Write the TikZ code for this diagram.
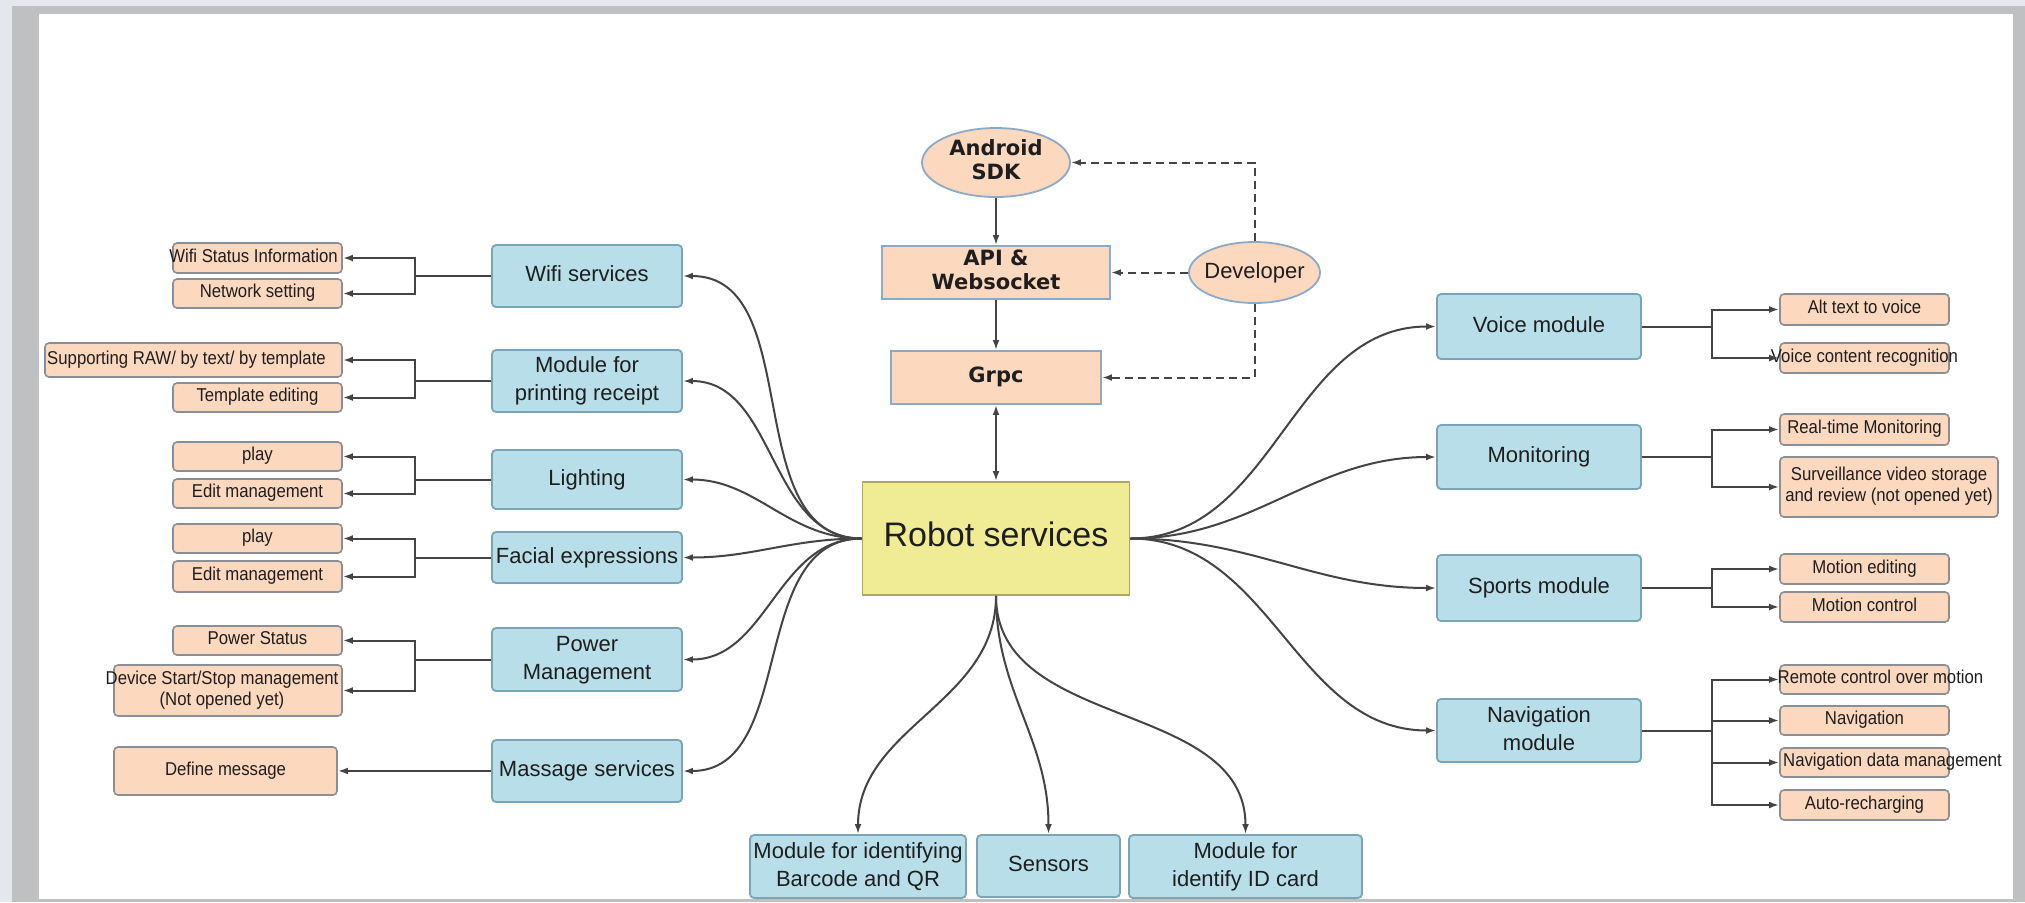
\documentclass[tikz,border=0pt]{standalone}
\usepackage{fontspec}
\setmainfont{Liberation Sans}
\newfontfamily\topfont{DejaVu Sans}
\newfontfamily\leaffont{Liberation Sans}[FakeStretch=0.9]
\usetikzlibrary{arrows.meta,shapes.geometric}
\definecolor{bluefill}{RGB}{184,223,233}
\definecolor{blueedge}{RGB}{122,164,184}
\definecolor{peach}{RGB}{251,216,190}
\definecolor{leafedge}{RGB}{138,142,150}
\definecolor{yellowfill}{RGB}{240,236,150}
\definecolor{yellowedge}{RGB}{172,168,100}
\definecolor{topedge}{RGB}{140,170,200}
\definecolor{linec}{RGB}{68,68,68}
\definecolor{txt}{RGB}{30,30,30}
\definecolor{outerbg}{RGB}{228,232,236}
\definecolor{framegray}{RGB}{191,192,194}
\newcommand\tb[1]{\makebox[0pt]{\begin{tabular}{@{}c@{}}#1\end{tabular}}}
\newcommand\tbs[2]{\makebox[0pt]{\hspace*{#1}\begin{tabular}{@{}c@{}}#2\end{tabular}}}
\tikzset{
  sz/.style 2 args={minimum width=#1, minimum height=#2},
  bluebox/.style={rectangle, draw=blueedge, fill=bluefill, rounded corners=2pt, line width=0.9pt, inner sep=0pt, text=txt, font=\fontsize{11}{14}\selectfont},
  leaf/.style={rectangle, draw=leafedge, fill=peach, rounded corners=2pt, line width=0.8pt, inner sep=0pt, text=txt, font=\leaffont\fontsize{9.3}{10.5}\selectfont},
  topbox/.style={rectangle, draw=topedge, fill=peach, line width=0.9pt, inner sep=0pt, text=txt, font=\topfont\bfseries\fontsize{10.5}{11.8}\selectfont},
  topell/.style={ellipse, draw=topedge, fill=peach, line width=0.9pt, inner sep=0pt, text=txt},
  robotbox/.style={rectangle, draw=yellowedge, fill=yellowfill, line width=0.9pt, inner sep=0pt, text=txt, font=\fontsize{17}{20}\selectfont},
  conn/.style={draw=linec, line width=1pt},
  arr/.style={conn, -{Latex[length=5pt,width=3.4pt]}},
  darr/.style={conn, {Latex[length=5pt,width=3.4pt]}-{Latex[length=5pt,width=3.4pt]}},
  dasharr/.style={arr, dash pattern=on 4pt off 2.5pt}
}
\begin{document}
\begin{tikzpicture}[x=0.5pt,y=-0.5pt]
\useasboundingbox (0,0) rectangle (2025,902);
\fill[outerbg] (0,0) rectangle (2025,902);
\fill[framegray] (12,6) rectangle (2025,902);
\fill[white] (39,14) rectangle (2013,899);

% left blue nodes
\node[bluebox, sz={95pt}{31pt}] (wifi) at (587,276) {\tb{Wifi services}};
\node[bluebox, sz={95pt}{31pt}] (print) at (587,381) {\tb{Module for\\printing receipt}};
\node[bluebox, sz={95pt}{29.5pt}] (light) at (587,479.5) {\tb{Lighting}};
\node[bluebox, sz={95pt}{25.5pt}] (face) at (587,557.5) {\tb{Facial expressions}};
\node[bluebox, sz={95pt}{31.5pt}] (power) at (587,659.5) {\tb{Power\\Management}};
\node[bluebox, sz={95pt}{31pt}] (massage) at (587,771) {\tb{Massage services}};

% left leaves
\node[leaf, sz={84.5pt}{15pt}] (wsi) at (257.5,258) {\tbs{-4pt}{Wifi Status Information}};
\node[leaf, sz={84.5pt}{14.5pt}] (net) at (257.5,293.5) {\tb{Network setting}};
\node[leaf, sz={148.5pt}{17pt}] (raw) at (193.5,360) {\tbs{-7pt}{Supporting RAW/ by text/ by template}};
\node[leaf, sz={84.5pt}{14.5pt}] (tmpl) at (257.5,397.5) {\tb{Template editing}};
\node[leaf, sz={84.5pt}{14.5pt}] (play1) at (257.5,456.5) {\tb{play}};
\node[leaf, sz={84.5pt}{14.5pt}] (edit1) at (257.5,493.5) {\tb{Edit management}};
\node[leaf, sz={84.5pt}{14.5pt}] (play2) at (257.5,538.5) {\tb{play}};
\node[leaf, sz={84.5pt}{15.5pt}] (edit2) at (257.5,576.5) {\tb{Edit management}};
\node[leaf, sz={84.5pt}{14.5pt}] (pstat) at (257.5,640.5) {\tb{Power Status}};
\node[leaf, sz={114pt}{25.5pt}] (devss) at (228,690.5) {\tbs{-6pt}{Device Start/Stop management\\(Not opened yet)}};
\node[leaf, sz={111.5pt}{24pt}] (defmsg) at (225.5,771) {\tb{Define message}};

% top
\node[topell, sz={74pt}{34.5pt}, font=\topfont\bfseries\fontsize{10.5}{11.8}\selectfont] (sdk) at (996,162.5) {\tb{Android\\SDK}};
\node[topbox, sz={114pt}{26.5pt}] (api) at (996,272.5) {\tb{API \&\\Websocket}};
\node[topbox, sz={105pt}{26.5pt}] (grpc) at (996,377.5) {\tb{Grpc}};
\node[topell, sz={65.5pt}{30.5pt}, font=\fontsize{11}{14}\selectfont] (dev) at (1254.5,272.5) {\tb{Developer}};

% center
\node[robotbox, sz={133.5pt}{56.5pt}] (robot) at (996,538.5) {\tb{Robot services}};

% right blue
\node[bluebox, sz={102pt}{32.5pt}] (voice) at (1539,326.5) {\tb{Voice module}};
\node[bluebox, sz={102pt}{32pt}] (mon) at (1539,457) {\tb{Monitoring}};
\node[bluebox, sz={102pt}{33pt}] (sports) at (1539,588) {\tb{Sports module}};
\node[bluebox, sz={102pt}{31.5pt}] (nav) at (1539,730.5) {\tb{Navigation\\module}};

% right leaves
\node[leaf, sz={84.5pt}{15.5pt}] (alt) at (1864.5,309.5) {\tb{Alt text to voice}};
\node[leaf, sz={84.5pt}{15pt}] (vcr) at (1864.5,358) {\tb{Voice content recognition}};
\node[leaf, sz={84.5pt}{15.5pt}] (rtm) at (1864.5,429.5) {\tb{Real-time Monitoring}};
\node[leaf, sz={109pt}{30pt}] (surv) at (1889,487) {\tb{Surveillance video storage\\and review (not opened yet)}};
\node[leaf, sz={84.5pt}{15pt}] (medit) at (1864.5,569) {\tb{Motion editing}};
\node[leaf, sz={84.5pt}{15pt}] (mctl) at (1864.5,607) {\tb{Motion control}};
\node[leaf, sz={84.5pt}{14.5pt}] (rc) at (1864.5,679.5) {\tbs{16pt}{Remote control over motion}};
\node[leaf, sz={84.5pt}{14.5pt}] (navi) at (1864.5,720.5) {\tb{Navigation}};
\node[leaf, sz={84.5pt}{14.5pt}] (ndm) at (1864.5,762.5) {\tbs{28pt}{Navigation data management}};
\node[leaf, sz={84.5pt}{15pt}] (auto) at (1864.5,805) {\tb{Auto-recharging}};

% bottom
\node[bluebox, sz={108pt}{31.5pt}] (barcode) at (858,866.5) {\tb{Module for identifying\\Barcode and QR}};
\node[bluebox, sz={71.5pt}{31pt}] (sensors) at (1048.5,866) {\tb{Sensors}};
\node[bluebox, sz={116.5pt}{31.5pt}] (idcard) at (1245.5,866.5) {\tb{Module for\\identify ID card}};

% top connectors
\draw[arr] (sdk.south) -- (api.north);
\draw[arr] (api.south) -- (grpc.north);
\draw[darr] (grpc.south) -- (robot.north);
\draw[dasharr] (dev.north) |- (sdk.east);
\draw[dasharr] (dev.west) -- (api.east);
\draw[dasharr] (dev.south) |- (grpc.east);

% robot to modules
\foreach \n in {wifi,print,light,face,power,massage}
  \draw[arr] (robot.west) to[out=180,in=0] (\n.east);
\foreach \n in {voice,mon,sports,nav}
  \draw[arr] (robot.east) to[out=0,in=180] (\n.west);
\foreach \n in {barcode,sensors,idcard}
  \draw[arr] (robot.south) to[out=-90,in=90] (\n.north);

% left brackets
\foreach \p/\a/\b in {wifi/wsi/net, print/raw/tmpl, light/play1/edit1, face/play2/edit2, power/pstat/devss}{
  \draw[conn] (\p.west) -- ++(-38pt,0) coordinate (j\p);
  \draw[arr] (j\p) |- (\a.east);
  \draw[arr] (j\p) |- (\b.east);
}
\draw[arr] (massage.west) -- (defmsg.east);

% right brackets
\foreach \p/\a/\b in {voice/alt/vcr, mon/rtm/surv, sports/medit/mctl}{
  \draw[conn] (\p.east) -- ++(35pt,0) coordinate (j\p);
  \draw[arr] (j\p) |- (\a.west);
  \draw[arr] (j\p) |- (\b.west);
}
\draw[conn] (nav.east) -- ++(35pt,0) coordinate (jnav);
\foreach \a in {rc,navi,ndm,auto}
  \draw[arr] (jnav) |- (\a.west);
\end{tikzpicture}
\end{document}
